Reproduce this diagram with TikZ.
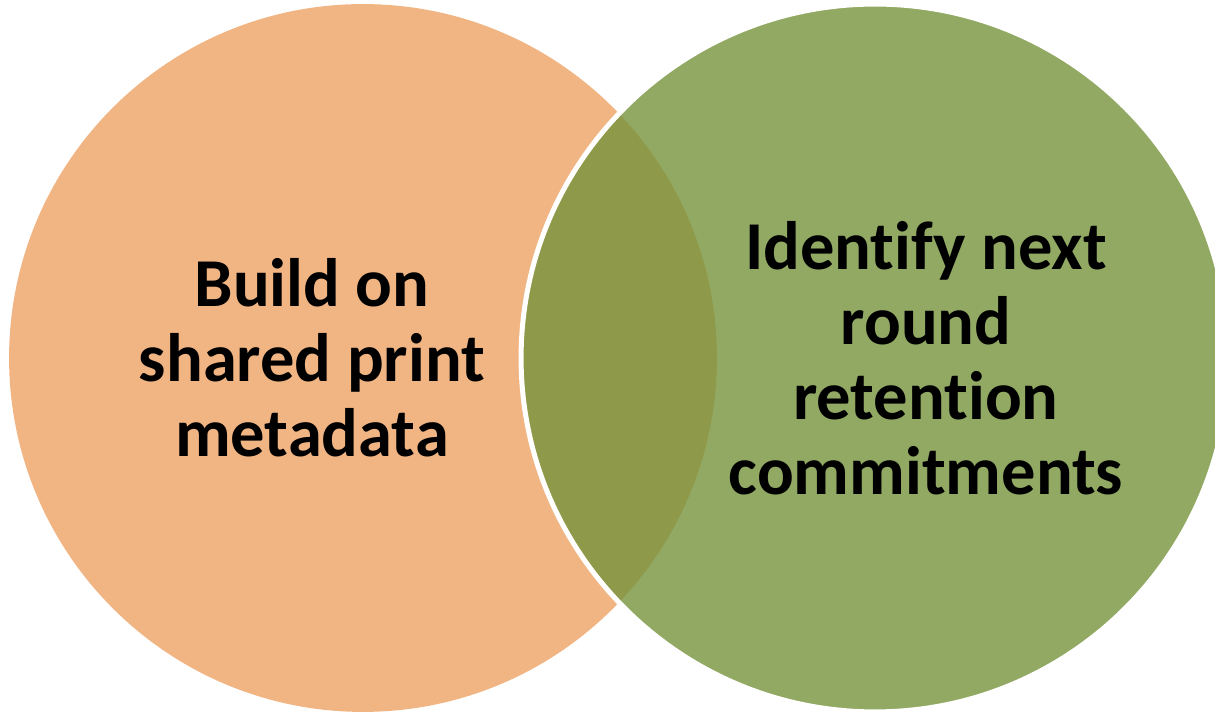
\documentclass[tikz,border=0pt]{standalone}
\usepackage{fontspec}
\setmainfont{Carlito}[RawFeature={-liga;-clig;-dlig}]
\usetikzlibrary{positioning}
\definecolor{peach}{HTML}{F1B584}
\definecolor{oliveg}{HTML}{77933C}

\begin{document}
\begin{tikzpicture}[x=0.02cm, y=0.02cm,
          bc/.style={circle, inner sep=0pt, minimum size=14.16cm},
          lc/.style={bc, fill=peach},
          rc/.style={bc, fill=oliveg, fill opacity=0.8, draw=white, line width=0.1cm},
          tx/.style={align=center, text=black, inner sep=0pt,
            font=\fontsize{39}{42.7}\selectfont\bfseries}]
        \useasboundingbox (0,0) rectangle (1215,713);
        \clip (0,0) rectangle (1215,713);
        \node[lc] (build) at (363,355) {};
        \node[rc] (ident) at (875,355) {};
        \node[tx] (tb) at ([xshift=-1.02cm]build.center) {Build on\\shared print\\metadata};
        \node[tx] (ti) at ([xshift=1.02cm]ident.center) {Identify next\\round\\retention\\commitments};
      \end{tikzpicture}
\end{document}
